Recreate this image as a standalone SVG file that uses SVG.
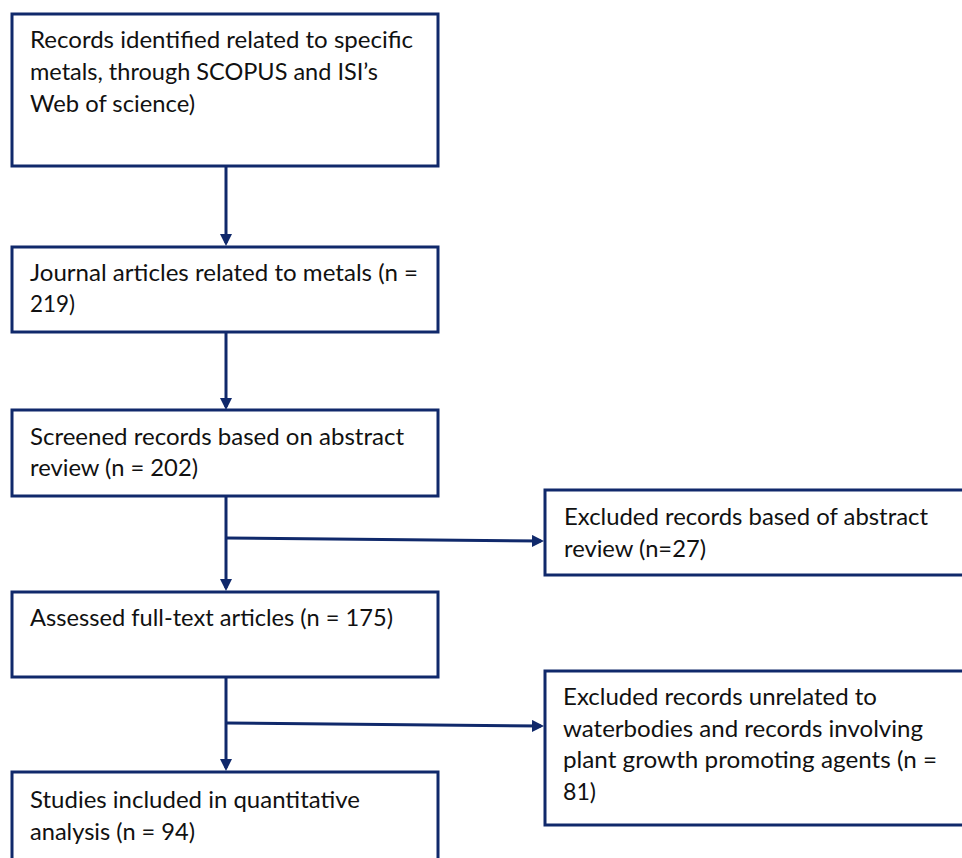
<svg xmlns="http://www.w3.org/2000/svg" width="962" height="858" viewBox="0 0 962 858">
<style>
.box{fill:#ffffff;stroke:#10296b;stroke-width:3}
.t{font-family:Lato,"Open Sans","Liberation Sans",sans-serif;font-size:24px;fill:#111111}
.c{fill:none;stroke:#10296b;stroke-width:3}
</style>
<defs>
<marker id="ah" viewBox="0 0 12 12" refX="9" refY="6" markerWidth="12" markerHeight="12" markerUnits="userSpaceOnUse" orient="auto">
<path d="M0,0 L12,6 L0,12 z" fill="#10296b"/>
</marker>
</defs>
<rect width="962" height="858" fill="#ffffff"/>
<g id="connectors">
<path class="c" d="M226,164 V243" marker-end="url(#ah)"/>
<path class="c" d="M226,330 V407" marker-end="url(#ah)"/>
<path class="c" d="M226,494 V588" marker-end="url(#ah)"/>
<path class="c" d="M226,675 V768" marker-end="url(#ah)"/>
<path class="c" d="M226,538 L541,541" marker-end="url(#ah)"/>
<path class="c" d="M226,723 L541,726" marker-end="url(#ah)"/>
</g>
<g id="n1">
<rect class="box" x="12" y="14" width="426" height="152"/>
<text class="t" x="30" y="48" textLength="383" lengthAdjust="spacingAndGlyphs">Records identified related to specific</text>
<text class="t" x="30" y="80" textLength="348" lengthAdjust="spacingAndGlyphs">metals, through SCOPUS and ISI’s</text>
<text class="t" x="30" y="112" textLength="165" lengthAdjust="spacingAndGlyphs">Web of science)</text>
</g>
<g id="n2">
<rect class="box" x="12" y="247" width="426" height="85"/>
<text class="t" x="30" y="281" textLength="388" lengthAdjust="spacingAndGlyphs">Journal articles related to metals (n =</text>
<text class="t" x="30" y="312" textLength="45" lengthAdjust="spacingAndGlyphs">219)</text>
</g>
<g id="n3">
<rect class="box" x="12" y="410" width="426" height="86"/>
<text class="t" x="30" y="445" textLength="374" lengthAdjust="spacingAndGlyphs">Screened records based on abstract</text>
<text class="t" x="30" y="476" textLength="168" lengthAdjust="spacingAndGlyphs">review (n = 202)</text>
</g>
<g id="n4">
<rect class="box" x="12" y="592" width="426" height="85"/>
<text class="t" x="30" y="626" textLength="363" lengthAdjust="spacingAndGlyphs">Assessed full-text articles (n = 175)</text>
</g>
<g id="n5">
<rect class="box" x="12" y="772" width="426" height="100"/>
<text class="t" x="30" y="808" textLength="330" lengthAdjust="spacingAndGlyphs">Studies included in quantitative</text>
<text class="t" x="30" y="840" textLength="165" lengthAdjust="spacingAndGlyphs">analysis (n = 94)</text>
</g>
<g id="n6">
<rect class="box" x="545" y="490" width="430" height="85"/>
<text class="t" x="564" y="525" textLength="364" lengthAdjust="spacingAndGlyphs">Excluded records based of abstract</text>
<text class="t" x="564" y="557" textLength="142" lengthAdjust="spacingAndGlyphs">review (n=27)</text>
</g>
<g id="n7">
<rect class="box" x="545" y="671" width="430" height="154"/>
<text class="t" x="563" y="705" textLength="314" lengthAdjust="spacingAndGlyphs">Excluded records unrelated to</text>
<text class="t" x="563" y="737" textLength="360" lengthAdjust="spacingAndGlyphs">waterbodies and records involving</text>
<text class="t" x="563" y="768" textLength="374" lengthAdjust="spacingAndGlyphs">plant growth promoting agents (n =</text>
<text class="t" x="563" y="800" textLength="33" lengthAdjust="spacingAndGlyphs">81)</text>
</g>
</svg>
